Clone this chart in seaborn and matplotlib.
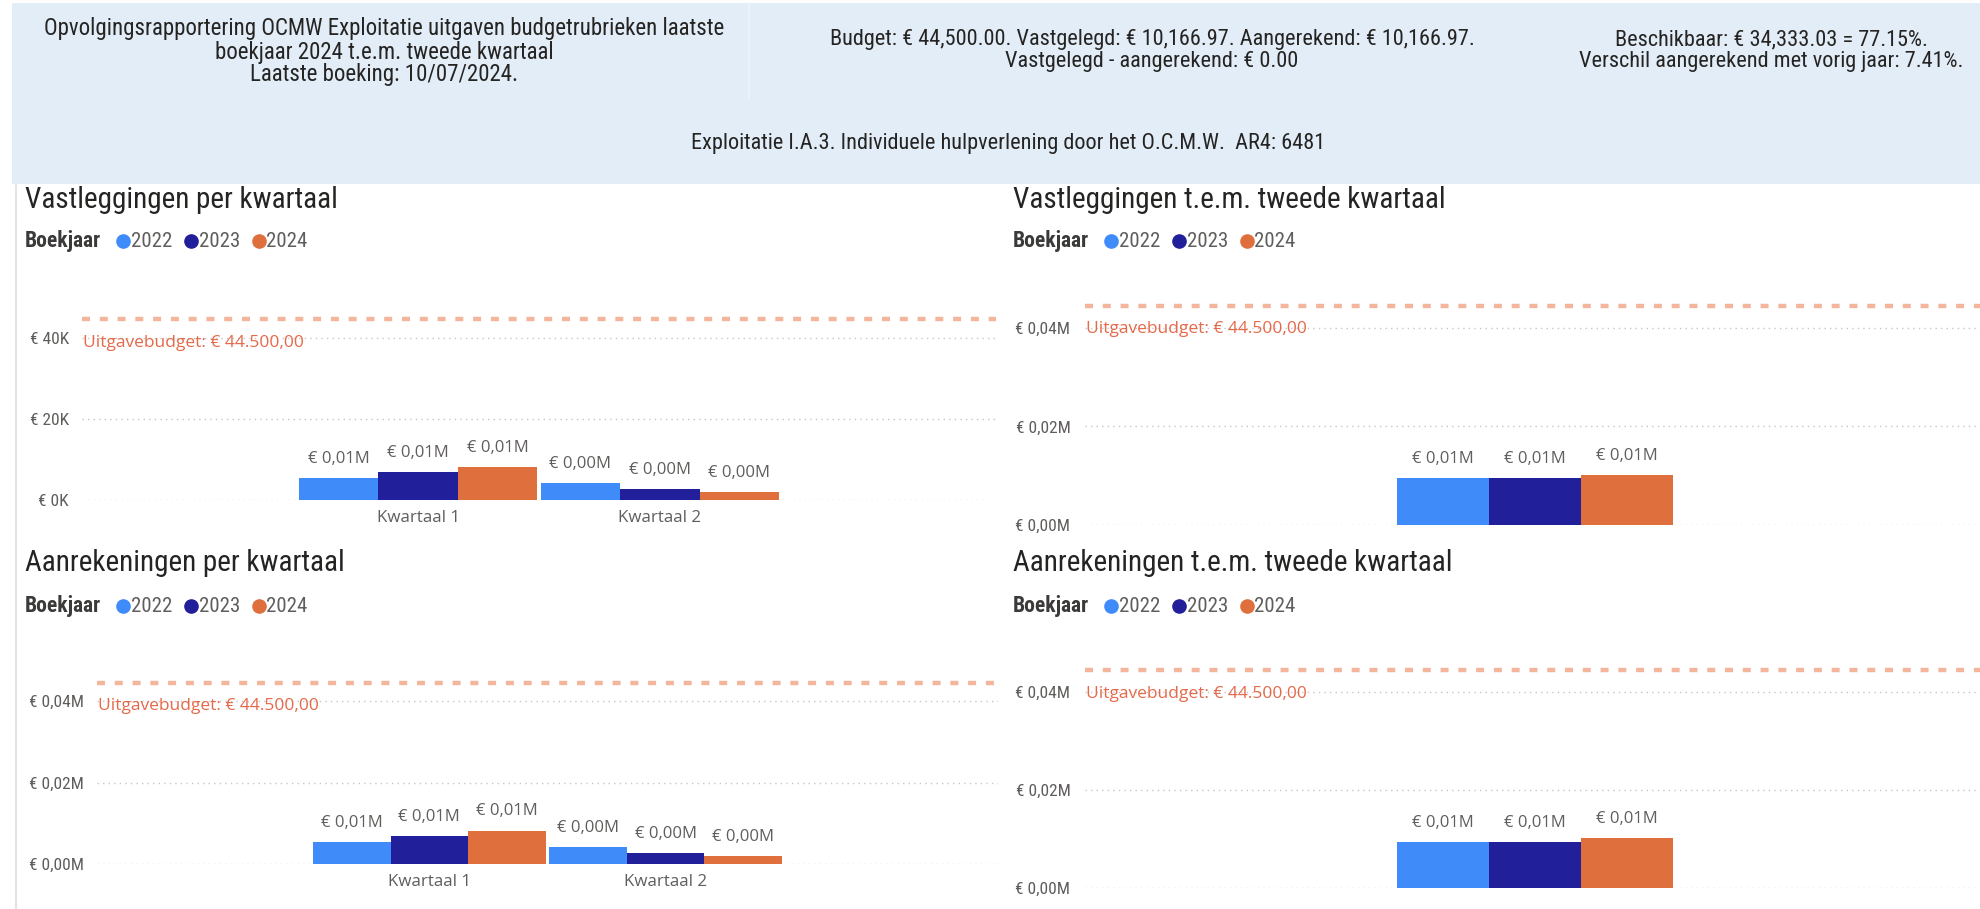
import matplotlib
matplotlib.use("Agg")
import matplotlib.pyplot as plt
from matplotlib import font_manager
from matplotlib.patches import Rectangle
from matplotlib.lines import Line2D
import seaborn as sns
import pandas as pd

# ---- data -------------------------------------------------------------
years = ["2022", "2023", "2024"]
quarters = ["Kwartaal 1", "Kwartaal 2"]
cumulative_label = "t.e.m. tweede kwartaal"

# commitments (vastleggingen) per quarter, EUR
vast_q1 = [5350, 6850, 8200]
vast_q2 = [4100, 2616, 1967]
# charged amounts (aanrekeningen) per quarter, EUR
aanr_q1 = [5350, 6850, 8200]
aanr_q2 = [4100, 2616, 1967]

budget = 44500
budget_label = "Uitgavebudget: € 44.500,00"

left_ticks = [0, 20000, 40000]
left_ticklabels = ["€ 0K", "€ 20K", "€ 40K"]
m_ticks = [0, 20000, 40000]
m_ticklabels = ["€ 0,00M", "€ 0,02M", "€ 0,04M"]

header_left = ["Opvolgingsrapportering OCMW Exploitatie uitgaven budgetrubrieken laatste",
               "boekjaar 2024 t.e.m. tweede kwartaal",
               "Laatste boeking: 10/07/2024."]
header_mid = ["Budget: € 44,500.00. Vastgelegd: € 10,166.97. Aangerekend: € 10,166.97.",
              "Vastgelegd - aangerekend: € 0.00"]
header_right = ["Beschikbaar: € 34,333.03 = 77.15%.",
                "Verschil aangerekend met vorig jaar: 7.41%."]
header_bottom = "Exploitatie I.A.3. Individuele hulpverlening door het O.C.M.W.  AR4: 6481"

palette = {"2022": "#3E8BF9", "2023": "#221F9B", "2024": "#DF6F3D"}

# ---- fonts -------------------------------------------------------------
def pick(*names):
    for n in names:
        try:
            font_manager.findfont(font_manager.FontProperties(family=n),
                                  fallback_to_default=False)
            return n
        except Exception:
            pass
    return "DejaVu Sans"

NARROW = pick("Liberation Sans Narrow", "Roboto Condensed", "Roboto")
UI = pick("Open Sans", "Noto Sans", "DejaVu Sans")

sns.set_theme(style="white")
plt.rcParams["font.family"] = [NARROW, "DejaVu Sans"]

DARK = "#252423"
GREY = "#605E5C"

W, H = 1980, 909
fig = plt.figure(figsize=(W / 100, H / 100), dpi=100)
fig.patch.set_facecolor("white")


def fx(x):
    return x / W


def fy(y):
    return 1 - y / H


def px_axes(x0, y0, x1, y1):
    return fig.add_axes([x0 / W, 1 - y1 / H, (x1 - x0) / W, (y1 - y0) / H])


# ---- header band --------------------------------------------------------
fig.add_artist(Rectangle((fx(12), fy(184)), (W - 12) / W, 181 / H,
                         transform=fig.transFigure, facecolor="#E2EDF7",
                         edgecolor="none", zorder=0))
fig.add_artist(Line2D([fx(749), fx(749)], [fy(4), fy(98)], transform=fig.transFigure,
                      color="#EEF4FA", lw=1.2))
# left border of the visuals
fig.add_artist(Line2D([fx(16), fx(16)], [fy(185), fy(909)], transform=fig.transFigure,
                      color="#E3E3E3", lw=1.5))

HFS = 16
for s, y in zip(header_left, [28, 52, 75]):
    fig.text(fx(384), fy(y), s, ha="center", va="center", fontsize=16.5, color=DARK,
             family=NARROW)
for s, y in zip(header_mid, [40, 62]):
    fig.text(fx(1152), fy(y), s, ha="center", va="center", fontsize=HFS, color=DARK,
             family=NARROW)
for s, y in zip(header_right, [40, 62]):
    fig.text(fx(1771), fy(y), s, ha="center", va="center", fontsize=HFS, color=DARK,
             family=NARROW)
fig.text(fx(1008), fy(144), header_bottom, ha="center", va="center", fontsize=HFS,
         color=DARK, family=NARROW)

renderer = fig.canvas.get_renderer()


def title_and_legend(x, y_title, y_legend, title):
    fig.text(fx(x), fy(y_title), title, ha="left", va="center", fontsize=21,
             color=DARK, family=NARROW)
    t = fig.text(fx(x), fy(y_legend), "Boekjaar", ha="left", va="center",
                 fontsize=15.5, fontweight="bold", color="#3B3A39", family=NARROW)
    cx = t.get_window_extent(renderer).x1 + 22
    for yr in years:
        fig.add_artist(Line2D([fx(cx)], [fy(y_legend)], transform=fig.transFigure,
                              marker="o", ms=9.5, color=palette[yr], lw=0))
        t = fig.text(fx(cx + 7.5), fy(y_legend), yr, ha="left", va="center",
                     fontsize=15, color=GREY, family=NARROW)
        cx = t.get_window_extent(renderer).x1 + 19


def euro_m(v):
    return f"€ {v / 1e6:.2f}M".replace(".", ",")


def style_axes(ax, ymax, ticks, ticklabels, xlim, ypad):
    ax.set_yticks(ticks)
    ax.set_yticklabels(ticklabels, fontsize=12.5, color=GREY, family=NARROW)
    ax.set_ylim(0, ymax)
    ax.set_xlim(*xlim)
    ax.tick_params(axis="y", length=0, pad=ypad)
    ax.yaxis.grid(True, linestyle=(0, (1, 3)), color="#C6C6C6", lw=1)
    ax.set_axisbelow(True)
    for sp in ax.spines.values():
        sp.set_visible(False)
    ax.set_facecolor("none")
    ax.set_xlabel("")
    ax.set_ylabel("")
    # budget reference line and its label
    ax.axhline(budget, color="#F3B69C", lw=3.2, linestyle=(0, (1.8, 2.2)), zorder=1)
    ax.annotate(budget_label, xy=(0, budget), xycoords=("axes fraction", "data"),
                xytext=(1, -17), textcoords="offset points", ha="left", va="center",
                fontsize=12.5, color="#E5694A", family=UI)
    for c in ax.containers:
        ax.bar_label(c, labels=[euro_m(v) for v in c.datavalues], padding=8,
                     fontsize=12, color=GREY, family=UI)


def quarter_chart(box, q1, q2, ymax, ticks, ticklabels, xlim, ypad):
    ax = px_axes(*box)
    df = pd.DataFrame({
        "kwartaal": [quarters[0]] * len(years) + [quarters[1]] * len(years),
        "boekjaar": years + years,
        "bedrag": list(q1) + list(q2),
    })
    sns.barplot(data=df, x="kwartaal", y="bedrag", hue="boekjaar", order=quarters,
                hue_order=years, palette=palette, width=0.985, saturation=1,
                errorbar=None, legend=False, linewidth=0, ax=ax)
    style_axes(ax, ymax, ticks, ticklabels, xlim, ypad)
    ax.tick_params(axis="x", length=0, pad=7)
    for lab in ax.get_xticklabels():
        lab.set_fontsize(12.2)
        lab.set_color(GREY)
        lab.set_family(UI)
    return ax


def cumulative_chart(box, q1, q2, ymax, ticks, ticklabels, xlim, ypad):
    ax = px_axes(*box)
    df = pd.DataFrame({
        "periode": [cumulative_label] * len(years),
        "boekjaar": years,
        "bedrag": [a + b for a, b in zip(q1, q2)],
    })
    sns.barplot(data=df, x="periode", y="bedrag", hue="boekjaar", hue_order=years,
                palette=palette, width=0.9, saturation=1, errorbar=None,
                legend=False, linewidth=0, ax=ax)
    style_axes(ax, ymax, ticks, ticklabels, xlim, ypad)
    ax.set_xticks([])
    return ax


# ---- four panels (euro per pixel chosen per panel) ------------------------
title_and_legend(25, 200, 241, "Vastleggingen per kwartaal")
quarter_chart((82, 290, 996, 500), vast_q1, vast_q2, 210 / 4.06 * 1000,
              left_ticks, left_ticklabels, (0.5 - 1.891, 0.5 + 1.891), 9.5)

title_and_legend(1013, 200, 241, "Vastleggingen t.e.m. tweede kwartaal")
cumulative_chart((1085, 290, 1980, 525), vast_q1, vast_q2, 235 / 4.93 * 1000,
                 m_ticks, m_ticklabels, (-1.467, 1.451), 10.5)

title_and_legend(25, 563, 606, "Aanrekeningen per kwartaal")
quarter_chart((97, 650, 998, 864), aanr_q1, aanr_q2, 214 / 4.075 * 1000,
              m_ticks, m_ticklabels, (0.5 - 1.906, 0.5 + 1.906), 9.5)

title_and_legend(1013, 563, 606, "Aanrekeningen t.e.m. tweede kwartaal")
cumulative_chart((1085, 650, 1980, 888), aanr_q1, aanr_q2, 238 / 4.9 * 1000,
                 m_ticks, m_ticklabels, (-1.467, 1.451), 10.5)

fig.savefig("out.png", dpi=100, facecolor="white")
